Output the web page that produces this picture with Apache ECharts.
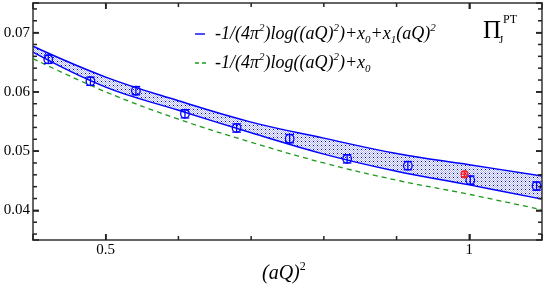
<!DOCTYPE html>
<html><head><meta charset="utf-8">
<script src="https://cdn.jsdelivr.net/npm/echarts@6/dist/echarts.min.js"></script>
<style>html,body{margin:0;padding:0;background:#fff}#c{width:545px;height:288px}</style>
</head><body><div id="c"></div>
<script>
// fit band (upper/lower edges) and x0-only fit, read at x = 0.4 ... 1.1
const bandX = [0.4, 0.5, 0.6, 0.7, 0.8, 0.9, 1.0, 1.1];
const bandUpper = [0.0677, 0.0625, 0.0585, 0.0549, 0.0522, 0.0496, 0.0477, 0.0458];
const bandLower = [0.0667, 0.0608, 0.0569, 0.0531, 0.0495, 0.0466, 0.0443, 0.0419];
const fitX0 = [0.0656, 0.0600, 0.0554, 0.0515, 0.0480, 0.0451, 0.0427, 0.0401];
// lattice data points
const dataX = [0.421, 0.479, 0.5415, 0.609, 0.680, 0.753, 0.832, 0.9155, 1.0014, 1.0925];
const dataY = [0.0655, 0.0618, 0.0602, 0.0563, 0.0539, 0.0521, 0.0487, 0.04755, 0.0451, 0.0441];
const dataErr = [0.0007, 0.0007, 0.0007, 0.0007, 0.0007, 0.0007, 0.0007, 0.0007, 0.0007, 0.0007];
const redX = [0.9935];
const redY = [0.0461];
const redErr = [0.0004];
// tick labels and tick positions
const xLabels = ['0.5', '1'];
const yLabels = ['0.04', '0.05', '0.06', '0.07'];
const xMajorTicks = [0.5, 1.0];
const xMinorTicks = [0.6, 0.7, 0.8, 0.9];
const yMajorTicks = [0.04, 0.05, 0.06, 0.07];
const yMinorTicks = [0.036, 0.038, 0.042, 0.044, 0.046, 0.048, 0.052, 0.054, 0.056, 0.058,
                     0.062, 0.064, 0.066, 0.068, 0.072, 0.074];
const xRange = [0.4, 1.1];
const yRange = [0.035, 0.075];

const serif = '"Liberation Serif","DejaVu Serif",serif';
const axisCol = '#333333';

function makePattern() {
  const c = document.createElement('canvas');
  c.width = 4; c.height = 4;
  const ctx = c.getContext('2d');
  for (let i = 0; i < 4; i++) for (let j = 0; j < 4; j++) {
    ctx.fillStyle = ((i + j) % 2 === 0) ? '#a9b0ff' : '#ffffff';
    ctx.fillRect(i, j, 1, 1);
  }
  ctx.fillStyle = '#0000b0';
  ctx.fillRect(1, 1, 1, 1);
  return c;
}

const chart = echarts.init(document.getElementById('c'));

function errItem(color, r, horiz) {
  return function (params, api) {
    const p = api.coord([api.value(0), api.value(1)]);
    const top = api.coord([api.value(0), api.value(1) + api.value(2)]);
    const bot = api.coord([api.value(0), api.value(1) - api.value(2)]);
    const style = {stroke: color, fill: 'none', lineWidth: 1.3};
    const ch = [
      {type: 'circle', shape: {cx: p[0], cy: p[1], r: r}, style: style},
      {type: 'line', shape: {x1: p[0], y1: top[1], x2: p[0], y2: bot[1]}, style: style},
      {type: 'line', shape: {x1: p[0] - r, y1: top[1], x2: p[0] + r, y2: top[1]}, style: style},
      {type: 'line', shape: {x1: p[0] - r, y1: bot[1], x2: p[0] + r, y2: bot[1]}, style: style}
    ];
    if (horiz) ch.push({type: 'line', shape: {x1: p[0] - r, y1: p[1], x2: p[0] + r, y2: p[1]}, style: style});
    return {type: 'group', children: ch};
  };
}

// frame ticks on all four sides, positioned through the axes' own scales
function tickItem(params, api) {
  const st = {stroke: '#222222', lineWidth: 1.5, fill: 'none'};
  const ch = [];
  const addX = (v, len) => {
    const b = api.coord([v, yRange[0]]);
    const t = api.coord([v, yRange[1]]);
    ch.push({type: 'line', shape: {x1: b[0], y1: b[1], x2: b[0], y2: b[1] - len}, style: st});
    ch.push({type: 'line', shape: {x1: t[0], y1: t[1], x2: t[0], y2: t[1] + len}, style: st});
  };
  const addY = (v, len) => {
    const l = api.coord([xRange[0], v]);
    const r = api.coord([xRange[1], v]);
    ch.push({type: 'line', shape: {x1: l[0], y1: l[1], x2: l[0] + len, y2: l[1]}, style: st});
    ch.push({type: 'line', shape: {x1: r[0], y1: r[1], x2: r[0] - len, y2: r[1]}, style: st});
  };
  xMajorTicks.forEach(v => addX(v, 6));
  xMinorTicks.forEach(v => addX(v, 4));
  yMajorTicks.forEach(v => addY(v, 6));
  yMinorTicks.forEach(v => addY(v, 4));
  return {type: 'group', children: ch};
}

const near = (v, t) => Math.abs(v - t) < 1e-6;
const xFmt = v => near(v, 0.5) ? xLabels[0] : (near(v, 1) ? xLabels[1] : '');
const yFmt = v => {
  for (const s of yLabels) if (near(v, parseFloat(s))) return s;
  return '';
};

function xAx(pos, labels) {
  return {
    type: 'value', position: pos, min: xRange[0], max: xRange[1], minInterval: 0.5, maxInterval: 0.5,
    axisLine: {show: true, lineStyle: {color: axisCol, width: 1.5}},
    axisTick: {show: true, inside: true, length: 6, lineStyle: {color: '#222', width: 1.5}},
    axisLabel: labels ? {show: true, formatter: xFmt, margin: 3, color: '#000', fontFamily: serif, fontSize: 15} : {show: false},
    splitLine: {show: false}
  };
}
function yAx(pos, labels) {
  return {
    type: 'value', position: pos, min: yRange[0], max: yRange[1], minInterval: 0.01, maxInterval: 0.01,
    axisLine: {show: true, lineStyle: {color: axisCol, width: 1.5}},
    axisTick: {show: true, inside: true, length: 6, lineStyle: {color: '#222', width: 1.5}},
    axisLabel: labels ? {show: true, formatter: yFmt, margin: 3, color: '#000', fontFamily: serif, fontSize: 15} : {show: false},
    splitLine: {show: false}
  };
}

const richLegend = {
  t: {fontFamily: serif, fontStyle: 'italic', fontSize: 18, lineHeight: 26, fill: '#000', verticalAlign: 'middle'},
  sup: {fontFamily: serif, fontStyle: 'italic', fontSize: 11, lineHeight: 26, fill: '#000', verticalAlign: 'top', padding: [2, 0, 0, 0]},
  sub: {fontFamily: serif, fontStyle: 'italic', fontSize: 11, lineHeight: 26, fill: '#000', verticalAlign: 'bottom', padding: [0, 0, 1, 0]}
};

chart.setOption({
  animation: false,
  backgroundColor: '#fff',
  grid: {left: 33, top: 3, right: 3, bottom: 48},
  xAxis: [xAx('bottom', true), xAx('top', false)],
  yAxis: [yAx('left', true), yAx('right', false)],
  series: [
    {type: 'line', name: 'upper', data: bandX.map((x, i) => [x, bandUpper[i]]),
      symbol: 'none', smooth: 0.4, lineStyle: {color: '#0000ff', width: 1.4},
      areaStyle: {origin: 'start', color: {image: makePattern(), repeat: 'repeat'}, opacity: 1}, z: -2},
    {type: 'line', name: 'lower', data: bandX.map((x, i) => [x, bandLower[i]]),
      symbol: 'none', smooth: 0.4, lineStyle: {color: '#0000ff', width: 1.4},
      areaStyle: {origin: 'start', color: '#ffffff', opacity: 1}, z: -1},
    {type: 'line', name: 'x0', data: bandX.map((x, i) => [x, fitX0[i]]),
      symbol: 'none', smooth: 0.4, lineStyle: {color: '#1a9a1a', width: 1.3, type: [5, 4]}, z: 4},
    {type: 'custom', name: 'data', renderItem: errItem('#0000ff', 4.3, false),
      data: dataX.map((x, i) => [x, dataY[i], dataErr[i]]), z: 5},
    {type: 'custom', name: 'red', renderItem: errItem('#ff2020', 3.5, true),
      data: redX.map((x, i) => [x, redY[i], redErr[i]]), z: 6},
    {type: 'custom', name: 'ticks', renderItem: tickItem, clip: false, silent: true,
      data: [[0.75, 0.055]], z: 20}
  ],
  graphic: [
    {type: 'line', shape: {x1: 195, y1: 34, x2: 205, y2: 34}, style: {stroke: '#0000ff', lineWidth: 1.4}},
    {type: 'line', shape: {x1: 195, y1: 63, x2: 206, y2: 63}, style: {stroke: '#1a9a1a', lineWidth: 1.3, lineDash: [4, 3]}},
    {type: 'text', left: 215, top: 21, style: {
      text: '{t|-1/(4π}{sup|2}{t|)log((aQ)}{sup|2}{t|)+x}{sub|0}{t|+x}{sub|1}{t|(aQ)}{sup|2}',
      rich: richLegend}},
    {type: 'text', left: 215, top: 50, style: {
      text: '{t|-1/(4π}{sup|2}{t|)log((aQ)}{sup|2}{t|)+x}{sub|0}',
      rich: richLegend}},
    {type: 'text', left: 483, top: 19, style: {text: 'Π', font: '25px ' + serif, fill: '#000'}},
    {type: 'text', left: 499, top: 35, style: {text: 'J', font: '11px ' + serif, fill: '#000'}},
    {type: 'text', left: 503, top: 14, style: {text: 'PT', font: '12px ' + serif, fill: '#000'}},
    {type: 'text', left: 262, top: 260, style: {
      text: '{t|(aQ)}{sup|2}',
      rich: {
        t: {fontFamily: serif, fontStyle: 'italic', fontSize: 20, lineHeight: 28, fill: '#000', verticalAlign: 'middle'},
        sup: {fontFamily: serif, fontSize: 12, lineHeight: 28, fill: '#000', verticalAlign: 'top', padding: [1, 0, 0, 0]}
      }}}
  ]
});
</script>
</body></html>
